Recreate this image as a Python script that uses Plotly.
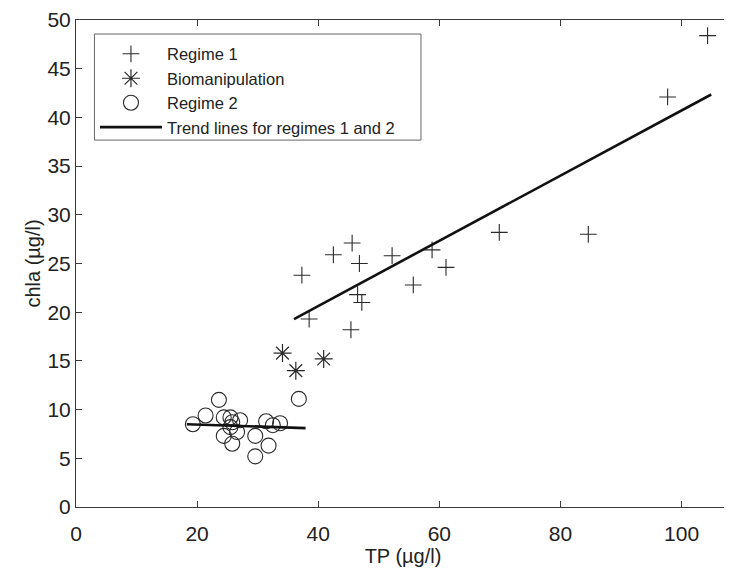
import plotly.graph_objects as go

# Regime 1 (plus markers)
regime1_tp = [104.3, 97.7, 84.6, 69.9, 61.1, 58.8, 55.7, 52.2, 46.8, 45.6, 42.5, 37.3, 38.5, 46.5, 47.2, 45.4]
regime1_chla = [48.4, 42.1, 28.0, 28.2, 24.6, 26.4, 22.8, 25.8, 25.0, 27.1, 25.9, 23.8, 19.3, 21.8, 21.0, 18.2]

# Biomanipulation (asterisks)
bio_tp = [34.1, 36.3, 40.9]
bio_chla = [15.8, 14.0, 15.2]

# Regime 2 (open circles)
regime2_tp = [23.6, 36.8, 21.4, 19.3, 24.4, 25.5, 27.1, 25.8, 25.5, 24.4, 25.8, 26.6, 29.6, 31.8, 29.6, 31.4, 32.5, 33.7]
regime2_chla = [11.0, 11.1, 9.4, 8.5, 9.2, 9.2, 8.9, 8.7, 8.2, 7.3, 6.5, 7.7, 7.3, 6.3, 5.2, 8.8, 8.4, 8.6]

# Trend lines (end points)
trend1_tp = [36.0, 104.9]
trend1_chla = [19.3, 42.35]
trend2_tp = [18.3, 37.9]
trend2_chla = [8.5, 8.1]

x_ticks = [0, 20, 40, 60, 80, 100]
y_ticks = [0, 5, 10, 15, 20, 25, 30, 35, 40, 45, 50]

MARK = "#2a2a2a"
FONT = "Liberation Sans, Arial, Helvetica, sans-serif"

fig = go.Figure()
fig.add_trace(go.Scatter(
    x=regime1_tp, y=regime1_chla, mode="markers", name="Regime 1",
    marker=dict(symbol="cross-thin-open", size=12, color=MARK, line=dict(width=1.1, color=MARK)),
))
fig.add_trace(go.Scatter(
    x=bio_tp, y=bio_chla, mode="markers", name="Biomanipulation",
    marker=dict(symbol="asterisk-open", size=15, color=MARK, line=dict(width=1.2, color=MARK)),
))
fig.add_trace(go.Scatter(
    x=regime2_tp, y=regime2_chla, mode="markers", name="Regime 2",
    marker=dict(symbol="circle-open", size=15, color=MARK, line=dict(width=1.1, color=MARK)),
))
fig.add_trace(go.Scatter(
    x=trend1_tp, y=trend1_chla, mode="lines", name="Trend lines for regimes 1 and 2",
    line=dict(color="#111111", width=2.6),
))
fig.add_trace(go.Scatter(
    x=trend2_tp, y=trend2_chla, mode="lines", name="Trend lines for regimes 1 and 2",
    line=dict(color="#111111", width=2.6), showlegend=False,
))

axis_common = dict(
    showgrid=False, zeroline=False, showline=True, linecolor="#3a3a3a", linewidth=1,
    ticks="inside", ticklen=6, tickwidth=1, tickcolor="#3a3a3a",
    tickfont=dict(size=21, color="#222222", family=FONT), automargin=False,
)

# legend frame drawn as a shape so its size matches the original box
fig.add_shape(type="rect", xref="paper", yref="paper",
              x0=0.0282, x1=0.5275, y0=0.7534, y1=0.9712,
              line=dict(color="#666666", width=1), fillcolor="white", layer="above")

# page body has an 8px default margin, so the figure is sized to fit the window
fig.update_layout(
    width=724, height=562,
    margin=dict(l=67.5, r=1.5, t=12, b=63.3),
    paper_bgcolor="white", plot_bgcolor="white",
    font=dict(family=FONT, color="#222222"),
    xaxis=dict(range=[0, 108], tickvals=x_ticks, ticklabelstandoff=8, mirror="ticks",
               title=dict(text="TP (µg/l)", font=dict(size=20, family=FONT), standoff=0),
               **axis_common),
    yaxis=dict(range=[0, 50], tickvals=y_ticks, mirror=False,
               title=dict(text="chla (µg/l)", font=dict(size=20, family=FONT), standoff=1),
               **axis_common),
    legend=dict(
        x=0.029, y=0.966, xanchor="left", yanchor="top",
        bgcolor="rgba(0,0,0,0)", borderwidth=0,
        font=dict(size=16.5, family=FONT, color="#222222"),
        itemwidth=62, tracegroupgap=0,
    ),
    showlegend=True,
)

fig.write_html("out.html")
